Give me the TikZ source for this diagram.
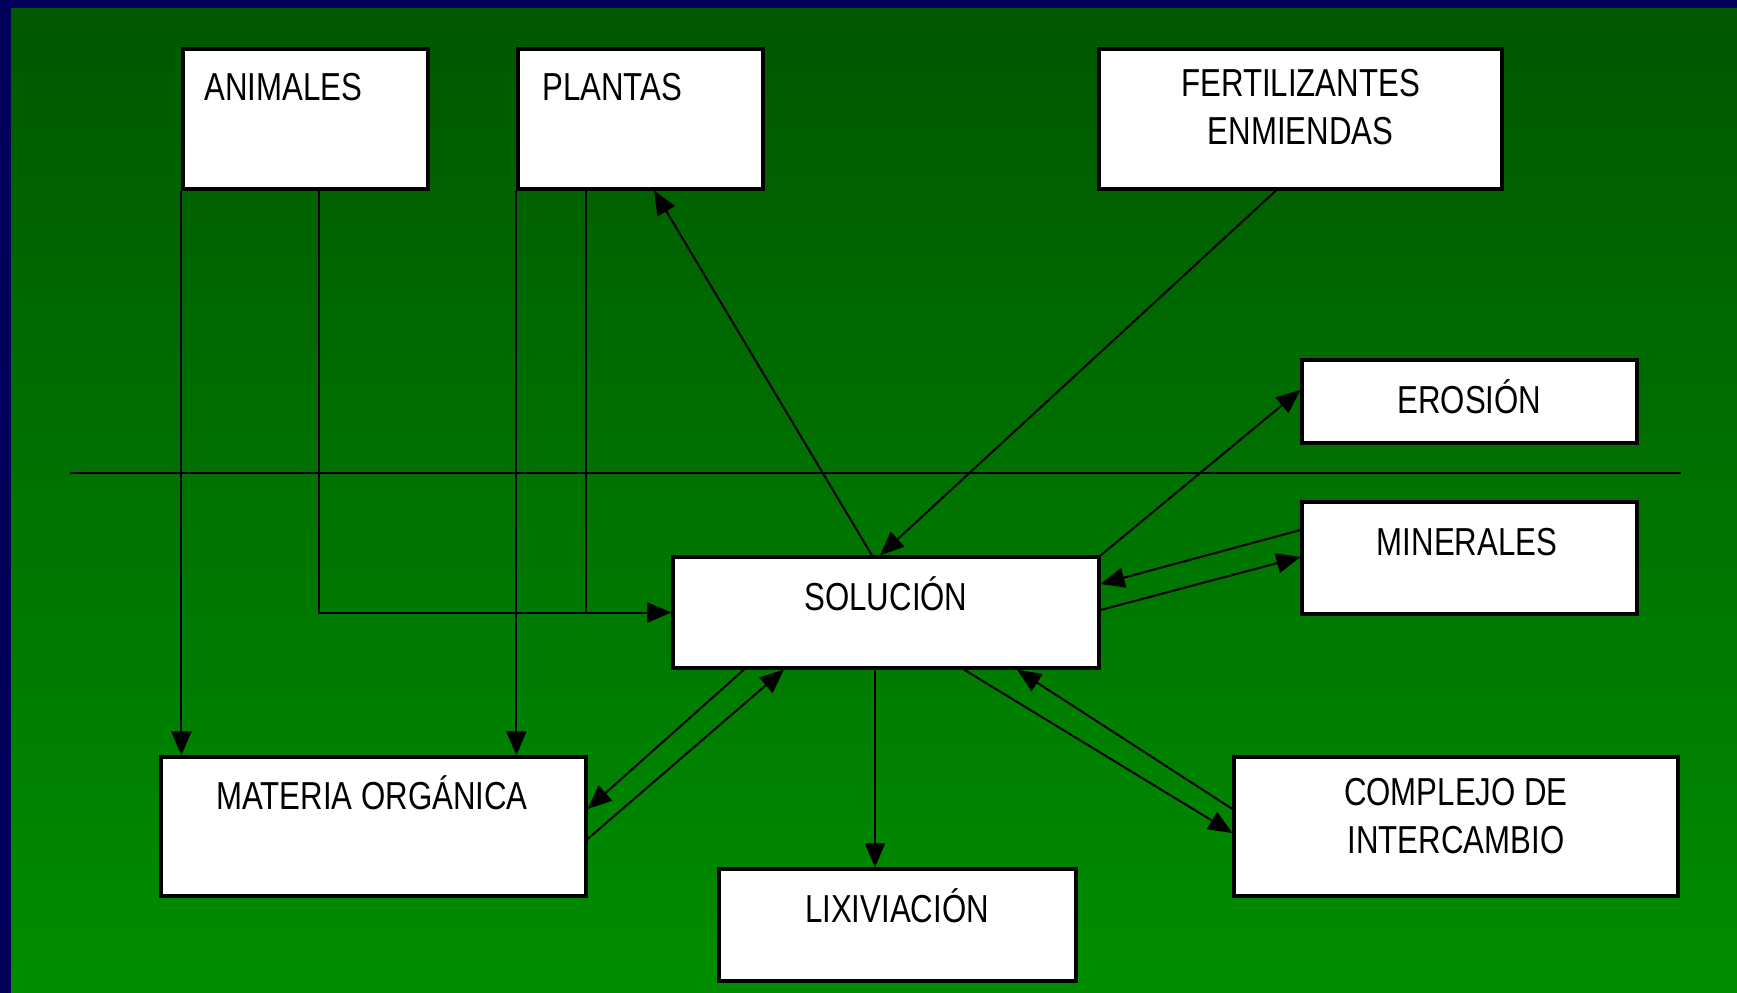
\documentclass[tikz,border=0pt]{standalone}
\usepackage{fontspec}
\setmainfont{Liberation Sans}[FakeStretch=0.8]
\usetikzlibrary{arrows.meta}
\definecolor{soiltop}{RGB}{0,88,0}
\definecolor{soilbottom}{RGB}{0,142,0}
\definecolor{slidenavy}{RGB}{0,0,90}

\begin{document}
\begin{tikzpicture}[x=0.5pt, y=-0.5pt,
    box/.style={draw, fill=white, line width=1.6pt, inner sep=0pt},
    lbl/.style={inner sep=0pt, font=\fontsize{19.5}{24}\selectfont, align=center},
    flow/.style={line width=1pt, -{Triangle[length=12pt, width=10pt]}}]
  \useasboundingbox (0, 0) rectangle (1737, 992);
  % slide background
  \fill[slidenavy] (-6, -6) rectangle (1743, 998);
  \shade[top color=soiltop, bottom color=soilbottom] (11, 8) rectangle (1743, 998);

  % boxes
  \node (ani) at (305.5, 119) [box, minimum width=122.5pt, minimum height=70pt] {};
  \node (pla) at (640.5, 119) [box, minimum width=122.5pt, minimum height=70pt] {};
  \node (fer) at (1300.5, 119) [box, minimum width=201.5pt, minimum height=70pt] {};
  \node (ero) at (1469.5, 401.5) [box, minimum width=167.5pt, minimum height=41.5pt] {};
  \node (min) at (1469.5, 558) [box, minimum width=167.5pt, minimum height=56pt] {};
  \node (sol) at (886, 612.5) [box, minimum width=213pt, minimum height=55.5pt] {};
  \node (mat) at (373.5, 826.5) [box, minimum width=212.5pt, minimum height=69.5pt] {};
  \node (lix) at (897.5, 925) [box, minimum width=178.5pt, minimum height=56pt] {};
  \node (com) at (1456, 826.5) [box, minimum width=222pt, minimum height=69.5pt] {};

  % labels
  \node (anitxt) at (204, 100) [lbl, anchor=base west] {ANIMALES};
  \node (platxt) at (542, 100) [lbl, anchor=base west] {PLANTAS};
  \node (fertxt) at (1300.5, 69) [lbl, anchor=north] {FERTILIZANTES\\ENMIENDAS};
  \node (erotxt) at (1469.5, 413) [lbl, anchor=base] {EROSIÓN};
  \node (mintxt) at (1467, 555) [lbl, anchor=base] {MINERALES};
  \node (soltxt) at (886, 610) [lbl, anchor=base] {SOLUCIÓN};
  \node (mattxt) at (372, 809) [lbl, anchor=base] {MATERIA ORGÁNICA};
  \node (lixtxt) at (897, 922) [lbl, anchor=base] {LIXIVIACIÓN};
  \node (comtxt) at (1456, 778) [lbl, anchor=north] {COMPLEJO DE\\INTERCAMBIO};

  % soil surface
  \coordinate (surfw) at (70, 473);
  \coordinate (surfe) at (1681, 473);
  \draw[line width=1pt] (surfw) -- (surfe);

  % inputs from above
  \draw[flow] (ani.south west) -- (ani.south west |- mat.north);
  \draw[flow] ([xshift=6.75pt]ani.south) |- (sol.west);
  \draw[flow] (pla.south west) -- (pla.south west |- mat.north);
  \draw[line width=1pt] ([xshift=-27.25pt]pla.south) -- ([xshift=-27.25pt]pla.south |- sol.west);
  \draw[flow] ([xshift=-7pt]sol.north) -- ([xshift=6.75pt]pla.south);
  \draw[flow] ([xshift=-12.25pt]fer.south) -- ([xshift=-3pt]sol.north);
  \draw[flow] (sol.north east) -- ([yshift=5.75pt]ero.west);

  % exchanges around the solution
  \draw[flow] ([yshift=14pt]min.west) -- ([yshift=14.25pt]sol.east);
  \draw[flow] ([yshift=1.25pt]sol.east) -- ([yshift=0.5pt]min.west);
  \draw[flow] ([xshift=-71pt]sol.south) -- ([yshift=8.75pt]mat.east);
  \draw[flow] ([yshift=-6.25pt]mat.east) -- ([xshift=-51pt]sol.south);
  \draw[flow] ([xshift=-5.5pt]sol.south) -- ([xshift=-5.5pt]sol.south |- lix.north);
  \draw[flow] ([xshift=39pt]sol.south) -- ([yshift=-3.25pt]com.west);
  \draw[flow] ([yshift=8.75pt]com.west) -- ([xshift=65.5pt]sol.south);
\end{tikzpicture}
\end{document}
